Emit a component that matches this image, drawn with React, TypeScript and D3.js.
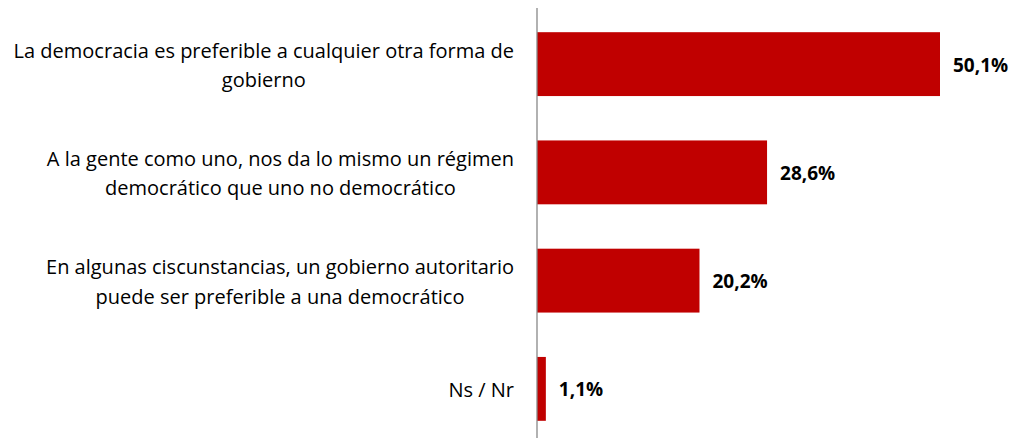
import React from "react";
import * as d3 from "d3";

const categories: string[][] = [
  ["La democracia es preferible a cualquier otra forma de", "gobierno"],
  ["A la gente como uno, nos da lo mismo un régimen", "democrático que uno no democrático"],
  ["En algunas ciscunstancias, un gobierno autoritario", "puede ser preferible a una democrático"],
  ["Ns / Nr"],
];
const values: number[] = [50.1, 28.6, 20.2, 1.1];
const valueLabels: string[] = ["50,1%", "28,6%", "20,2%", "1,1%"];

const W = 1013;
const H = 438;
const FONT = "'Open Sans', 'Noto Sans', sans-serif";

export default function App() {
  const x0 = 537;
  const x = d3.scaleLinear().domain([0, 50.1]).range([x0, 940]);
  const y = d3
    .scaleBand<number>()
    .domain(d3.range(values.length))
    .range([10, 443])
    .paddingInner(0.41)
    .paddingOuter(0.205);
  const fs = 20;
  const lineH = 29.4;
  const blockRight = 514;

  return (
    <svg
      width={W}
      height={H}
      style={{ position: "absolute", left: 0, top: 0, display: "block" }}
    >
      <rect width={W} height={H} fill="#ffffff" />
      {values.map((v, i) => {
        const yb = y(i)!;
        const cy = yb + y.bandwidth() / 2;
        return (
          <g key={i}>
            <rect
              x={x(0)}
              y={yb}
              width={x(v) - x(0)}
              height={y.bandwidth()}
              fill="#C00000"
            />
            <text
              x={x(v) + 13}
              y={cy + 7.5}
              fontFamily={FONT}
              fontSize={19}
              fontWeight="bold"
              fill="#000"
            >
              {valueLabels[i]}
            </text>
          </g>
        );
      })}
      {categories.map((lines, i) => {
        const cy = y(i)! + y.bandwidth() / 2;
        return (
          <CatLabel
            key={i}
            lines={lines}
            cy={cy}
            fs={fs}
            lineH={lineH}
            right={blockRight}
          />
        );
      })}
      <line x1={x0} x2={x0} y1={8} y2={H} stroke="#888888" strokeWidth={1.3} />
    </svg>
  );
}

function CatLabel({
  lines,
  cy,
  fs,
  lineH,
  right,
}: {
  lines: string[];
  cy: number;
  fs: number;
  lineH: number;
  right: number;
}) {
  const ref = React.useRef<SVGGElement>(null);
  const [center, setCenter] = React.useState<number | null>(null);
  const n = lines.length;
  React.useLayoutEffect(() => {
    if (!ref.current) return;
    const texts = Array.from(ref.current.querySelectorAll("text")) as SVGTextElement[];
    const maxW = d3.max(texts, (t) => t.getComputedTextLength()) || 0;
    setCenter(right - maxW / 2);
  }, [lines, right]);
  const c = center ?? right;
  return (
    <g ref={ref}>
      {lines.map((l, j) => (
        <text
          key={j}
          x={c}
          y={cy + 8.2 - ((n - 1) * lineH) / 2 + j * lineH}
          textAnchor="middle"
          fontFamily={FONT}
          fontSize={fs}
          fill="#000"
        >
          {l}
        </text>
      ))}
    </g>
  );
}
